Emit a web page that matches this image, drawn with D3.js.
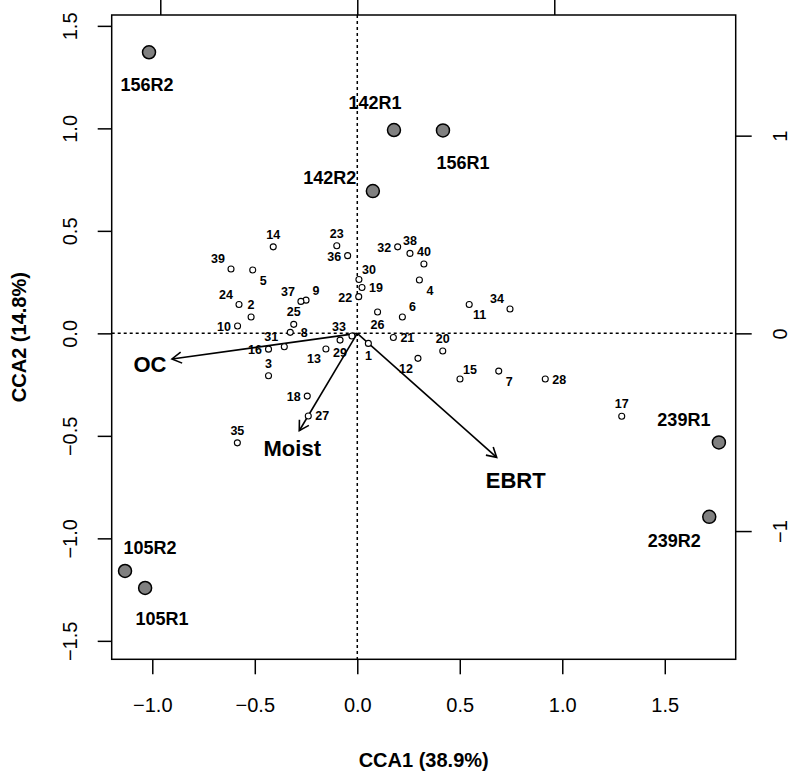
<!DOCTYPE html>
<html><head><meta charset="utf-8">
<script src="https://cdn.jsdelivr.net/npm/d3@7"></script>
<style>body{margin:0;background:#fff}svg{display:block}</style>
</head><body>
<svg id="c" width="792" height="780"></svg>
<script>
// ---- data ----
const speciesIds = d3.range(1, 41).map(String);
const speciesX = [0.054,-0.518,-0.433,0.303,-0.510,0.220,0.690,-0.327,-0.250,-0.584,
  0.546,0.296,-0.153,-0.410,0.501,-0.433,1.290,-0.244,0.023,0.417,
  0.176,0.007,-0.100,-0.577,-0.310,0.099,-0.239,0.917,-0.084,0.008,
  -0.356,0.197,-0.026,0.745,-0.585,-0.047,-0.275,0.257,-0.616,0.325];
const speciesY = [-0.049,0.080,-0.207,0.260,0.309,0.080,-0.184,0.005,0.162,0.036,
  0.141,-0.122,-0.076,0.422,-0.223,-0.077,-0.404,-0.306,0.224,-0.086,
  -0.020,0.179,0.427,0.141,0.044,0.104,-0.403,-0.223,-0.033,0.263,
  -0.065,0.422,-0.013,0.119,-0.534,0.379,0.156,0.390,0.314,0.338];
// label placement (like R's pos): t, b, l, r, tl, tr, bl, br
const speciesPos = ["b","t","t","br","br","tr","br","r","tr","l",
  "br","bl","bl","t","tr","l","t","l","r","t",
  "r","l","t","tl","t","b","r","r","b","tr",
  "tl","l","tl","tl","t","l","tl","t","tl","t"];

const siteNames = ["156R2","142R1","142R2","156R1","105R2","105R1","239R1","239R2"];
const siteX = [-1.016,0.179,0.076,0.418,-1.133,-1.035,1.764,1.717];
const siteY = [1.371,0.992,0.694,0.990,-1.159,-1.242,-0.532,-0.895];

const envNames = ["OC","Moist","EBRT"];
const envX = [-0.904,-0.283,0.680];
const envY = [-0.125,-0.475,-0.605];

const xTicks = [-1.0,-0.5,0.0,0.5,1.0,1.5];
const yTicks = [-1.5,-1.0,-0.5,0.0,0.5,1.0,1.5];
const topTicks = [-1,0,1];
const rightTicks = [-1,0,1];
const xTitle = "CCA1 (38.9%)";
const yTitle = "CCA2 (14.8%)";

// ---- layout / style ----
const L = 111.7, R = 735.7, T = 15, B = 659.3;
const FONT = "'Liberation Sans', Arial, sans-serif";
const siteLabelOff = {"156R2":[-2,33],"142R1":[-19,-27],"142R2":[-43,-13],"156R1":[20,33],
  "105R2":[25,-23],"105R1":[17,31],"239R1":[-35,-22],"239R2":[-35,24]};
const envLabelOff = {"OC":[-22,6],"Moist":[-7,18],"EBRT":[19,23]};
const posOff = {t:[0,-12],b:[0,12.5],l:[-13.5,1],r:[14,0.5],tl:[-13,-9.5],tr:[10,-9.5],bl:[-12,10.5],br:[10.5,11]};

const svg = d3.select("#c");
const x = d3.scaleLinear().domain([-1.198, 1.846]).range([L, R]);
const y = d3.scaleLinear().domain([-1.59, 1.553]).range([B, T]);
const x2 = d3.scaleLinear().domain([-1, 1]).range([x(0) - 197, x(0) + 197]);
const y2 = d3.scaleLinear().domain([-1, 1]).range([y(0) + 197.7, y(0) - 197.7]);

// dotted zero lines
svg.append("line").attr("x1", x(0)).attr("x2", x(0)).attr("y1", T).attr("y2", B)
  .attr("stroke", "#000").attr("stroke-width", 1.5).attr("stroke-dasharray", "3,3");
svg.append("line").attr("x1", L).attr("x2", R).attr("y1", y(0)).attr("y2", y(0))
  .attr("stroke", "#000").attr("stroke-width", 1.5).attr("stroke-dasharray", "3,3");

// axes
function styleAxis(g){
  g.select(".domain").remove();
  g.selectAll(".tick line").attr("stroke","#000").attr("stroke-width",1.5);
  g.selectAll(".tick text").attr("font-family",FONT).attr("font-size",20).attr("fill","#000");
}
const fmt = d3.format(".1f");
const gb = svg.append("g").attr("transform",`translate(0,${B})`)
  .call(d3.axisBottom(x).tickValues(xTicks).tickFormat(fmt).tickSize(15).tickPadding(24));
styleAxis(gb);
const gl = svg.append("g").attr("transform",`translate(${L},0)`)
  .call(d3.axisLeft(y).tickValues(yTicks).tickFormat(fmt).tickSize(14).tickPadding(0));
styleAxis(gl);
gl.selectAll(".tick text").attr("text-anchor","middle").attr("x",0).attr("dy",0)
  .attr("transform","translate(-42,0) rotate(-90)").attr("dominant-baseline","central");
const gt = svg.append("g").attr("transform",`translate(0,${T})`)
  .call(d3.axisTop(x2).tickValues(topTicks).tickFormat("").tickSize(15));
styleAxis(gt);
const gr = svg.append("g").attr("transform",`translate(${R},0)`)
  .call(d3.axisRight(y2).tickValues(rightTicks).tickFormat(d3.format("d")).tickSize(16));
styleAxis(gr);
gr.selectAll(".tick text").attr("text-anchor","middle").attr("x",0).attr("dy",0)
  .attr("transform","translate(44,0) rotate(-90)").attr("dominant-baseline","central");

// frame
svg.append("rect").attr("x",L).attr("y",T).attr("width",R-L).attr("height",B-T)
  .attr("fill","none").attr("stroke","#000").attr("stroke-width",1.5);

// titles
svg.append("text").attr("x",(L+R)/2).attr("y",760).attr("text-anchor","middle")
  .attr("dominant-baseline","central").attr("font-family",FONT).attr("font-weight","bold")
  .attr("font-size",20).text(xTitle);
svg.append("text").attr("transform",`translate(19,${(T+B)/2}) rotate(-90)`).attr("text-anchor","middle")
  .attr("dominant-baseline","central").attr("font-family",FONT).attr("font-weight","bold")
  .attr("font-size",20).text(yTitle);

// env arrows
const ox = x(0), oy = y(0);
envNames.forEach((n,i)=>{
  const tx = x(envX[i]), ty = y(envY[i]);
  const g = svg.append("g").attr("stroke","#000").attr("stroke-width",1.6).attr("fill","none");
  g.append("line").attr("x1",ox).attr("y1",oy).attr("x2",tx).attr("y2",ty);
  const a = Math.atan2(ty-oy, tx-ox), len = 11, sp = Math.PI/6;
  g.append("path").attr("d",
    `M${tx-len*Math.cos(a-sp)},${ty-len*Math.sin(a-sp)}L${tx},${ty}L${tx-len*Math.cos(a+sp)},${ty-len*Math.sin(a+sp)}`);
  const o = envLabelOff[n];
  svg.append("text").attr("x",tx+o[0]).attr("y",ty+o[1]).attr("text-anchor","middle")
    .attr("dominant-baseline","central").attr("font-family",FONT).attr("font-weight","bold")
    .attr("font-size",22).text(n);
});

// species points
speciesIds.forEach((id,i)=>{
  const px = x(speciesX[i]), py = y(speciesY[i]);
  svg.append("circle").attr("cx",px).attr("cy",py).attr("r",3)
    .attr("fill","#fff").attr("stroke","#000").attr("stroke-width",1.1);
  const o = posOff[speciesPos[i]];
  svg.append("text").attr("x",px+o[0]).attr("y",py+o[1]).attr("text-anchor","middle")
    .attr("dominant-baseline","central").attr("font-family",FONT).attr("font-weight","bold")
    .attr("font-size",12.5).text(id);
});

// site points
siteNames.forEach((n,i)=>{
  const px = x(siteX[i]), py = y(siteY[i]);
  svg.append("circle").attr("cx",px).attr("cy",py).attr("r",6.5)
    .attr("fill","#808080").attr("stroke","#000").attr("stroke-width",1.5);
  const o = siteLabelOff[n];
  svg.append("text").attr("x",px+o[0]).attr("y",py+o[1]).attr("text-anchor","middle")
    .attr("dominant-baseline","central").attr("font-family",FONT).attr("font-weight","bold")
    .attr("font-size",18).text(n);
});
</script>
</body></html>
